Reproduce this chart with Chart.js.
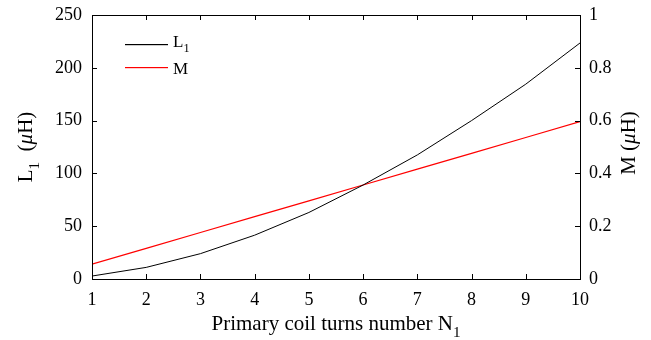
<!DOCTYPE html>
<html>
<head>
<meta charset="utf-8">
<script src="https://cdn.jsdelivr.net/npm/chart.js@4.4.1/dist/chart.umd.min.js"></script>
<style>
  html, body { margin: 0; padding: 0; background: #fff; }
  #wrap { width: 651px; height: 340px; }
</style>
</head>
<body>
<div id="wrap"><canvas id="c" width="651" height="340"></canvas></div>
<script>
// turns number N1
var turns = [1, 2, 3, 4, 5, 6, 7, 8, 9, 10];
// self inductance L1 (uH), left axis
var l1Values = [2.8, 11, 24, 41.5, 63, 89, 117.5, 150, 184.5, 223.5];
// mutual inductance M (uH), right axis
var mValues = [0.056, 0.116, 0.176, 0.236, 0.296, 0.356, 0.416, 0.476, 0.536, 0.596];
var leftTicks = [0, 50, 100, 150, 200, 250];
var rightTicks = [0, 0.2, 0.4, 0.6, 0.8, 1];

var serif = "'Liberation Serif', 'Times New Roman', serif";

function pts(xs, ys) {
  return xs.map(function (x, i) { return { x: x, y: ys[i] }; });
}

// draw text parts (plain / subscript / italic), returns width
function subText(ctx, x, y, parts, size) {
  var cx = x;
  parts.forEach(function (p) {
    var fs = p.sub ? size * 0.72 : size;
    ctx.font = (p.italic ? 'italic ' : '') + fs + 'px ' + serif;
    ctx.fillText(p.t, cx, y + (p.sub ? size * 0.32 : 0));
    cx += ctx.measureText(p.t).width;
  });
  return cx - x;
}
function measureParts(ctx, parts, size) {
  var w = 0;
  parts.forEach(function (p) {
    var fs = p.sub ? size * 0.72 : size;
    ctx.font = (p.italic ? 'italic ' : '') + fs + 'px ' + serif;
    w += ctx.measureText(p.t).width;
  });
  return w;
}

var decor = {
  id: 'decor',
  afterDraw: function (chart) {
    var ctx = chart.ctx, a = chart.chartArea;
    var sx = chart.scales.x, sy = chart.scales.y, sm = chart.scales.y1;
    ctx.save();
    ctx.strokeStyle = '#000';
    ctx.lineWidth = 1;
    // box
    ctx.strokeRect(Math.round(a.left) + 0.5, Math.round(a.top) + 0.5,
      Math.round(a.right - a.left), Math.round(a.bottom - a.top));
    // inward ticks
    var tl = 5;
    ctx.beginPath();
    turns.forEach(function (n) {
      var px = Math.round(sx.getPixelForValue(n)) + 0.5;
      ctx.moveTo(px, a.bottom); ctx.lineTo(px, a.bottom - tl);
      ctx.moveTo(px, a.top); ctx.lineTo(px, a.top + tl);
    });
    leftTicks.forEach(function (v) {
      var py = Math.round(sy.getPixelForValue(v)) + 0.5;
      ctx.moveTo(a.left, py); ctx.lineTo(a.left + tl, py);
    });
    rightTicks.forEach(function (v) {
      var py = Math.round(sm.getPixelForValue(v)) + 0.5;
      ctx.moveTo(a.right, py); ctx.lineTo(a.right - tl, py);
    });
    ctx.stroke();

    ctx.textBaseline = 'alphabetic';
    ctx.textAlign = 'left';

    // legend (inside plot, top left)
    var legend = [
      { ds: 0, ly: 44, ty: 47, parts: [{ t: 'L' }, { t: '1', sub: true }] },
      { ds: 1, ly: 67, ty: 74, parts: [{ t: 'M' }] }
    ];
    legend.forEach(function (it) {
      ctx.fillStyle = chart.data.datasets[it.ds].borderColor;
      ctx.fillRect(125, it.ly, 43, 1.2);
      ctx.fillStyle = '#000';
      subText(ctx, 173, it.ty, it.parts, 17);
    });

    ctx.fillStyle = '#000';
    // x title
    var xt = [{ t: 'Primary coil turns number N' }, { t: '1', sub: true }];
    var size = 21;
    var w = measureParts(ctx, xt, size);
    subText(ctx, (a.left + a.right) / 2 - w / 2, 330, xt, size);

    // left title
    var lt = [{ t: 'L' }, { t: '1', sub: true }, { t: '  (' }, { t: '\u03bc', italic: true }, { t: 'H)' }];
    w = measureParts(ctx, lt, size);
    ctx.save();
    ctx.translate(32, 147);
    ctx.rotate(-Math.PI / 2);
    subText(ctx, -w / 2, 0, lt, size);
    ctx.restore();

    // right title
    var rt = [{ t: 'M (' }, { t: '\u03bc', italic: true }, { t: 'H)' }];
    w = measureParts(ctx, rt, size);
    ctx.save();
    ctx.translate(635, 143);
    ctx.rotate(-Math.PI / 2);
    subText(ctx, -w / 2, 0, rt, size);
    ctx.restore();

    ctx.restore();
  }
};

var tickFont = { family: serif, size: 18 };

var ctx = document.getElementById('c').getContext('2d');
new Chart(ctx, {
  type: 'line',
  data: {
    datasets: [
      {
        label: 'L1',
        data: pts(turns, l1Values),
        borderColor: '#000000',
        borderWidth: 1,
        pointRadius: 0,
        yAxisID: 'y'
      },
      {
        label: 'M',
        data: pts(turns, mValues),
        borderColor: '#ff0000',
        borderWidth: 1.2,
        pointRadius: 0,
        yAxisID: 'y1'
      }
    ]
  },
  options: {
    responsive: false,
    animation: false,
    layout: { padding: 0 },
    plugins: { legend: { display: false }, tooltip: { enabled: false } },
    scales: {
      x: {
        type: 'linear',
        min: 1,
        max: 10,
        afterFit: function (s) { s.height = 61; },
        afterBuildTicks: function (s) { s.ticks = turns.map(function (v) { return { value: v }; }); },
        grid: { display: false, drawTicks: false, tickLength: 0 },
        border: { display: false },
        ticks: { color: '#000', padding: 10, maxRotation: 0, font: tickFont }
      },
      y: {
        position: 'left',
        min: 0,
        max: 250,
        afterFit: function (s) { s.width = 92; s.paddingTop = 15; },
        afterBuildTicks: function (s) { s.ticks = leftTicks.map(function (v) { return { value: v }; }); },
        grid: { display: false, drawTicks: false, tickLength: 0 },
        border: { display: false },
        ticks: { color: '#000', padding: 10, font: tickFont }
      },
      y1: {
        position: 'right',
        min: 0,
        max: 1,
        afterFit: function (s) { s.width = 71; s.paddingTop = 15; },
        afterBuildTicks: function (s) { s.ticks = rightTicks.map(function (v) { return { value: v }; }); },
        grid: { display: false, drawTicks: false, tickLength: 0 },
        border: { display: false },
        ticks: {
          color: '#000', padding: 9, font: tickFont,
          callback: function (v) { return String(v); }
        }
      }
    }
  },
  plugins: [decor]
});
</script>
</body>
</html>
